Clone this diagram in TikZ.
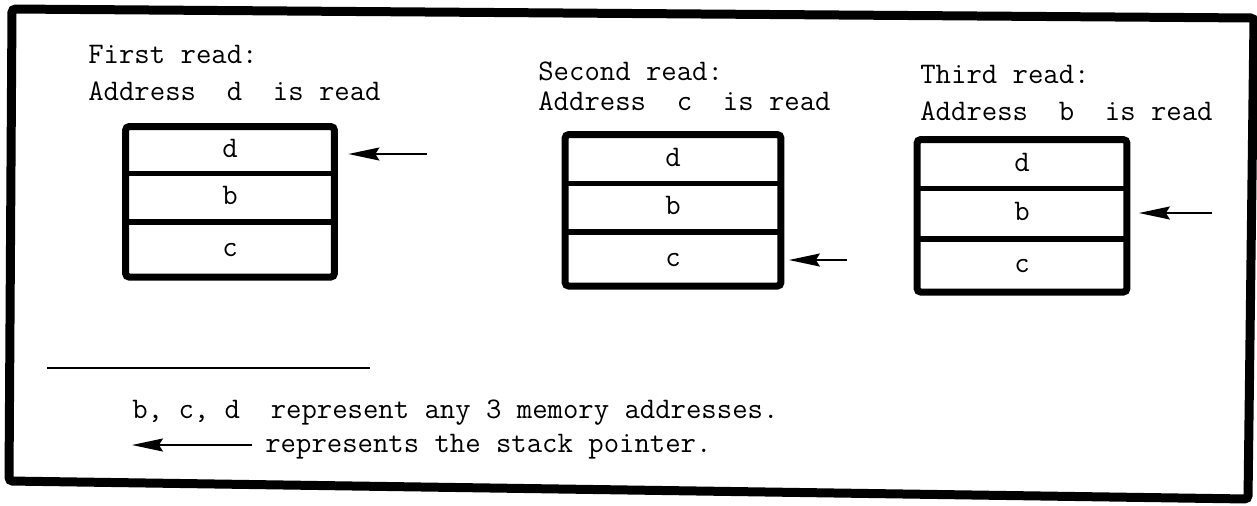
\documentclass[tikz,border=0pt]{standalone}
\usepackage{tikz}
\usetikzlibrary{arrows.meta,positioning}

\begin{document}
\begin{tikzpicture}[x=0.02cm, y=-0.02cm,
        every node/.style={font=\fontsize{17}{20}\selectfont\ttfamily, inner sep=0pt},
        cell/.style={draw, line width=1.6pt, text height=8pt, text depth=0pt},
        stackbox/.style={line width=4pt, rounded corners=2pt},
        ptr/.style={-{Stealth[length=0.62cm,width=0.26cm,inset=0.08cm]}, line width=1pt}]
        \useasboundingbox (0,0) rectangle (1257,505);
        \draw[line width=0.18cm, rounded corners=2pt]
            (12,9) -- (1254,18) -- (1248,499) -- (9,481) -- cycle;

        \node[anchor=base west] (first) at (88,63) {First read:};
        \node[anchor=base west] (firstaddr) at (88,100) {Address~~d~~is read};
        \node[cell, minimum width=4.12cm, minimum height=0.88cm] (d1) at (230,150) {d};
        \node[cell, minimum width=4.12cm, minimum height=0.92cm, below=0pt of d1] (b1) {b};
        \node[cell, minimum width=4.12cm, minimum height=1.04cm, below=0pt of b1] (c1) {c};
        \draw[stackbox] (d1.north west) rectangle (c1.south east);
        \coordinate (p1) at (427,154);
        \draw[ptr, shorten >=0.28cm] (p1) -- (d1.east |- p1);

        \node[anchor=base west] (second) at (538,80) {Second read:};
        \node[anchor=base west] (secondaddr) at (538,110) {Address~~c~~is read};
        \node[cell, minimum width=4.26cm, minimum height=0.92cm] (d2) at (673,159) {d};
        \node[cell, minimum width=4.26cm, minimum height=0.92cm, below=0pt of d2] (b2) {b};
        \node[cell, minimum width=4.26cm, minimum height=1.02cm, below=0pt of b2] (c2) {c};
        \draw[stackbox] (d2.north west) rectangle (c2.south east);
        \coordinate (p2) at (847,260);
        \draw[ptr, shorten >=0.16cm] (p2) -- (c2.east |- p2);

        \node[anchor=base west] (third) at (920,83) {Third read:};
        \node[anchor=base west] (thirdaddr) at (920,120) {Address~~b~~is read};
        \node[cell, minimum width=4.14cm, minimum height=0.92cm] (d3) at (1022,164) {d};
        \node[cell, minimum width=4.14cm, minimum height=0.96cm, below=0pt of d3] (b3) {b};
        \node[cell, minimum width=4.14cm, minimum height=1.0cm, below=0pt of b3] (c3) {c};
        \draw[stackbox] (d3.north west) rectangle (c3.south east);
        \coordinate (p3) at (1212,213);
        \draw[ptr, shorten >=0.24cm] (p3) -- (b3.east |- p3);

        \draw[line width=0.05cm] (47,368) -- (370,368);
        \node[anchor=base west] (note) at (132,418) {b, c, d~~represent any 3 memory addresses.};
        \node[anchor=base west] (ptrtxt) at (265,452) {represents the stack pointer.};
        \coordinate (lp) at (132,445);
        \draw[ptr, shorten <=0.26cm] (ptrtxt.west |- lp) -- (lp);
\end{tikzpicture}
\end{document}
